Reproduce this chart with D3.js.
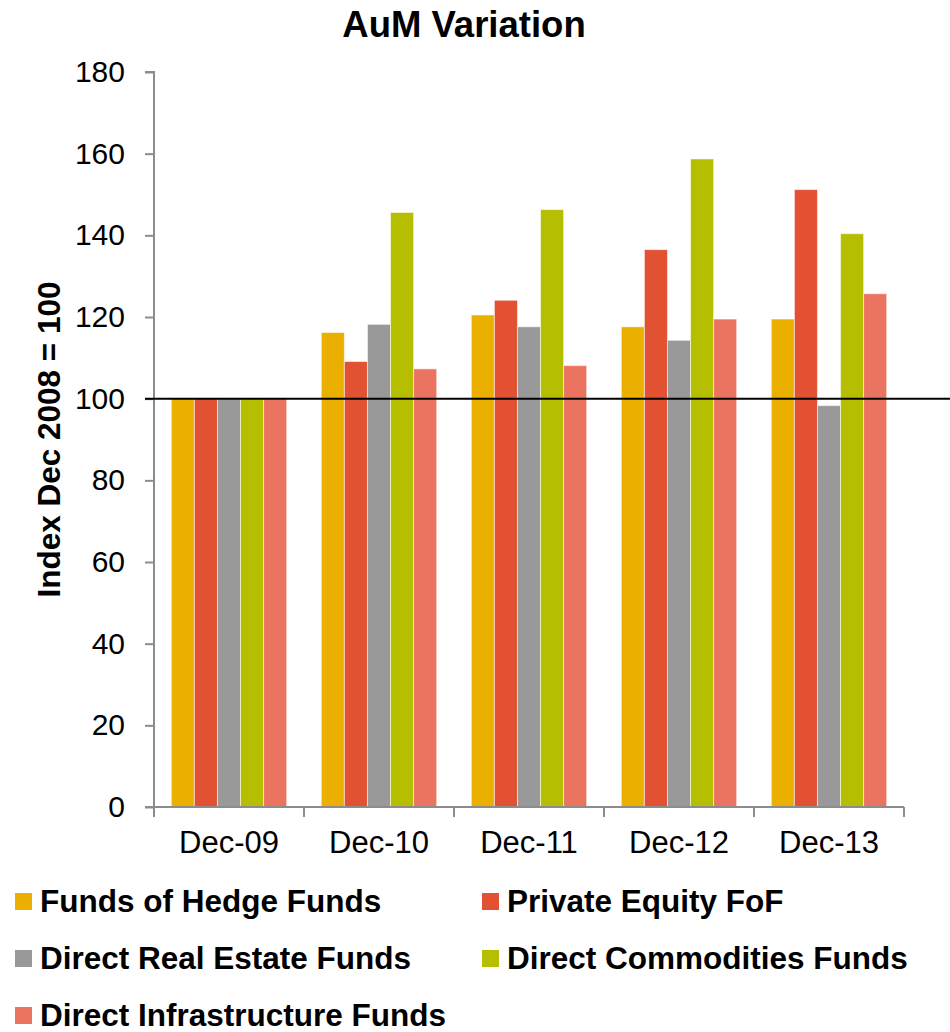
<!DOCTYPE html>
<html>
<head>
<meta charset="utf-8">
<script src="https://cdn.jsdelivr.net/npm/d3@7"></script>
<style>
  html, body { margin: 0; padding: 0; background: #fff; }
  svg { display: block; font-family: "Liberation Sans", Arial, sans-serif; }
</style>
</head>
<body>
<svg id="chart" width="950" height="1032"></svg>
<script>
const categories = ["Dec-09", "Dec-10", "Dec-11", "Dec-12", "Dec-13"];
const seriesNames = ["Funds of Hedge Funds", "Private Equity FoF", "Direct Real Estate Funds", "Direct Commodities Funds", "Direct Infrastructure Funds"];
const hedgeFunds     = [100, 116.2, 120.5, 117.6, 119.5];
const privateEquity  = [100, 109.1, 124.1, 136.5, 151.2];
const realEstate     = [100, 118.2, 117.6, 114.3, 98.3];
const commodities    = [100, 145.6, 146.3, 158.7, 140.4];
const infrastructure = [100, 107.3, 108.1, 119.5, 125.7];
const yTicks = [0, 20, 40, 60, 80, 100, 120, 140, 160, 180];
const colors = ["#EBAF00", "#E35133", "#999999", "#B5BE00", "#EB7460"];

(function () {
const seriesValues = [hedgeFunds, privateEquity, realEstate, commodities, infrastructure];
const data = categories.map((c, i) => ({
  cat: c,
  vals: seriesNames.map((s, j) => ({ key: s, value: seriesValues[j][i], color: colors[j] }))
}));

const svg = d3.select("#chart");
const pLeft = 154, pRight = 904, pTop = 72, pBottom = 807;

const x0 = d3.scaleBand().domain(categories).range([pLeft, pRight]).paddingInner(0).paddingOuter(0);
const x1 = d3.scaleBand().domain(seriesNames).range([0, x0.bandwidth()]).paddingInner(0).paddingOuter(0.75);
const y = d3.scaleLinear().domain([0, 180]).range([pBottom, pTop]);

// Title
svg.append("text")
  .attr("x", 464).attr("y", 37)
  .attr("text-anchor", "middle")
  .style("font-weight", "bold").style("font-size", "36.5px")
  .text("AuM Variation");

// Bars
const groups = svg.append("g").selectAll("g").data(data).join("g")
  .attr("transform", d => `translate(${x0(d.cat)},0)`);
groups.selectAll("rect").data(d => d.vals).join("rect")
  .attr("x", d => x1(d.key))
  .attr("y", d => y(d.value))
  .attr("width", x1.bandwidth())
  .attr("height", d => y(0) - y(d.value))
  .attr("fill", d => d.color)
  .attr("stroke", "rgba(255,255,255,0.55)")
  .attr("stroke-width", 1);

// Y axis
const yAxis = d3.axisLeft(y).tickValues(yTicks).tickSize(9).tickPadding(20);
const gy = svg.append("g").attr("transform", `translate(${pLeft},0)`).call(yAxis);
gy.select(".domain").attr("stroke", "#8c8c8c").attr("stroke-width", 2).attr("d", `M-9,${pTop}H0V${pBottom}H-9`);
gy.selectAll(".tick line").attr("stroke", "#8c8c8c").attr("stroke-width", 2);
gy.selectAll(".tick text").style("font-size", "30px").attr("fill", "#000").attr("font-family", "Liberation Sans, Arial, sans-serif");

// X axis
const xAxis = d3.axisBottom(x0).tickSize(0).tickPadding(24);
const gx = svg.append("g").attr("transform", `translate(0,${pBottom})`).call(xAxis);
gx.select(".domain").attr("stroke", "#8c8c8c").attr("stroke-width", 2).attr("d", `M${pLeft},0H${pRight}`);
gx.selectAll(".tick text").style("font-size", "31px").attr("fill", "#000").attr("font-family", "Liberation Sans, Arial, sans-serif");
const boundaries = categories.map(c => x0(c)).concat([x0(categories[categories.length - 1]) + x0.bandwidth()]);
gx.selectAll(".bnd").data(boundaries).join("line").attr("class", "bnd")
  .attr("x1", d => d).attr("x2", d => d).attr("y1", 0).attr("y2", 10)
  .attr("stroke", "#8c8c8c").attr("stroke-width", 2);

// Reference line at 100
svg.append("line")
  .attr("x1", 145).attr("x2", 950)
  .attr("y1", y(100)).attr("y2", y(100))
  .attr("stroke", "#000").attr("stroke-width", 2);

// Y axis title
svg.append("text")
  .attr("transform", `translate(60,${(pTop + pBottom) / 2}) rotate(-90)`)
  .attr("text-anchor", "middle")
  .style("font-weight", "bold").style("font-size", "31.5px")
  .text("Index Dec 2008 = 100");

// Legend
const legendPos = [[15, 912], [482, 912], [15, 969], [482, 969], [15, 1026]];
const lg = svg.append("g").selectAll("g").data(seriesNames).join("g")
  .attr("transform", (d, i) => `translate(${legendPos[i][0]},${legendPos[i][1]})`);
lg.append("rect").attr("x", 0).attr("y", -19).attr("width", 17).attr("height", 17)
  .attr("fill", (d, i) => colors[i]);
lg.append("text").attr("x", 25).attr("y", 0)
  .style("font-weight", "bold").style("font-size", "31.5px")
  .text(d => d);
})();
</script>
</body>
</html>
